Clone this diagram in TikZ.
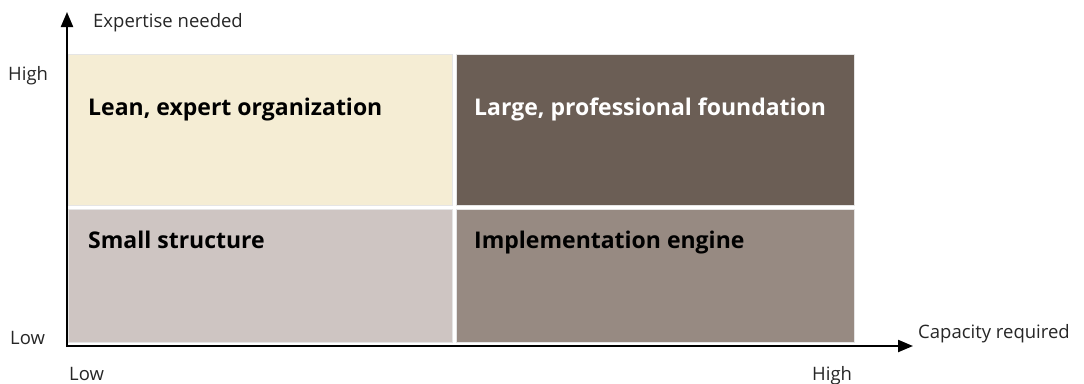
\documentclass[tikz,border=0pt]{standalone}
\usepackage{fontspec}
\setmainfont{Open Sans}
\usetikzlibrary{arrows.meta}
\definecolor{qtl}{HTML}{F5EDD4}
\definecolor{qtr}{HTML}{6B5E55}
\definecolor{qbl}{HTML}{CEC5C2}
\definecolor{qbr}{HTML}{978A82}
\tikzset{
  quad/.style={draw=black!10, line width=0.5pt},
  qlabel/.style={anchor=base west, font=\fontsize{23}{26}\selectfont\bfseries, inner sep=0pt},
  axlabel/.style={anchor=base west, font=\fontsize{18.5}{22}\selectfont, inner sep=0pt, text=black!85},
  axis/.style={line width=2.2pt, -{Triangle[length=15pt,width=12pt]}}
}
\begin{document}
\begin{tikzpicture}[x=1pt,y=-1pt]
\useasboundingbox (0,0) rectangle (1084,383);
% quadrants
\fill[qtl,quad] (68,54) rectangle (452,205);
\fill[qtr,quad] (456,54) rectangle (854,205);
\fill[qbl,quad] (68,209) rectangle (452,342);
\fill[qbr,quad] (456,209) rectangle (854,342);
\node[qlabel] (tl) at (88,115) {Lean, expert organization};
\node[qlabel, text=white] (tr) at (474,115) {Large, professional foundation};
\node[qlabel] (bl) at (88,248) {Small structure};
\node[qlabel] (br) at (474,248) {Implementation engine};
% axes
\coordinate (ytop) at (67,12);
\coordinate (xend) at (913,346);
\draw[axis] (67,347) -- (ytop);
\draw[axis] (66,346) -- (xend);
\node[axlabel] (ylab) at (93,27) {Expertise needed};
\node[axlabel] (yhigh) at (8,80) {High};
\node[axlabel] (ylow) at (10,344) {Low};
\node[axlabel] (xlow) at (69,380) {Low};
\node[axlabel] (xhigh) at (812,380) {High};
\node[axlabel] (xlab) at (918,338) {Capacity required};
\end{tikzpicture}
\end{document}
